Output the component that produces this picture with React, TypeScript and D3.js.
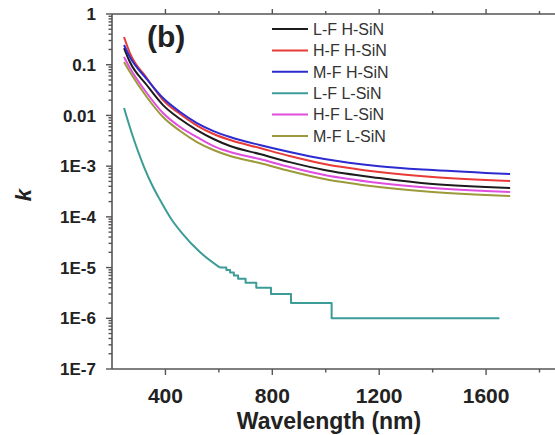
import React from "react";
import * as d3 from "d3";

// ---- data ----
const wavelengths = [245, 267, 330, 391, 455, 518, 580, 642, 753, 865, 995, 1200, 1400, 1690];

const kLF_HSiN = [0.213, 0.113, 0.0398, 0.016, 0.00849, 0.00515, 0.00343, 0.00249, 0.00173, 0.0012, 0.000838, 0.000582, 0.000443, 0.00037];
const kHF_HSiN = [0.352, 0.17, 0.0547, 0.0201, 0.01066, 0.00632, 0.0043, 0.00327, 0.00228, 0.00158, 0.0011, 0.000765, 0.00061, 0.000508];
const kMF_HSiN = [0.245, 0.142, 0.0522, 0.022, 0.01167, 0.00708, 0.00492, 0.00375, 0.00261, 0.0019, 0.00138, 0.001, 0.000838, 0.000698];
const kHF_LSiN = [0.142, 0.0861, 0.0277, 0.01115, 0.0059, 0.00375, 0.00249, 0.0019, 0.00138, 0.00096, 0.000667, 0.000464, 0.00037, 0.000308];
const kMF_LSiN = [0.113, 0.0718, 0.0231, 0.00929, 0.00492, 0.00299, 0.00208, 0.00158, 0.00115, 0.0008, 0.000557, 0.000387, 0.000308, 0.000257];

// L-F L-SiN: smooth part then quantised (stepped) part
const tealWl = [245, 275, 320, 350, 380, 421, 462, 529, 604];
const tealK = [0.014, 0.0043, 0.00096, 0.000424, 0.000214, 9.18e-5, 4.79e-5, 2.02e-5, 1.0e-5];
const tealStepWl = [604, 628, 642, 656, 672, 700, 740, 795, 870, 1022, 1650];
const tealStepK = [1e-5, 9e-6, 8e-6, 7e-6, 6e-6, 5e-6, 4e-6, 3e-6, 2e-6, 1e-6, 1e-6];

const seriesNames = ["L-F H-SiN", "H-F H-SiN", "M-F H-SiN", "L-F L-SiN", "H-F L-SiN", "M-F L-SiN"];
const seriesColors = ["#1c1c1c", "#e83a36", "#2b2bd0", "#3c9c96", "#e04ee0", "#9c9a3a"];

const xTicks = [400, 800, 1200, 1600];
const xMinorTicks = [600, 1000, 1400, 1800];
const yTicks = [1, 0.1, 0.01, 1e-3, 1e-4, 1e-5, 1e-6, 1e-7];
const yTickLabels = ["1", "0.1", "0.01", "1E-3", "1E-4", "1E-5", "1E-6", "1E-7"];

const FONT = "'Liberation Sans', Arial, Helvetica, sans-serif";

export default function App() {
  const W = 555, H = 435;
  const left = 112, right = 555, top = 14, bottom = 369;

  const x = d3.scaleLinear().domain([200, 1858]).range([left, right]);
  const y = d3.scaleLog().domain([1e-7, 1]).range([bottom, top]);

  const mainSeries = [
    { name: seriesNames[0], color: seriesColors[0], k: kLF_HSiN },
    { name: seriesNames[1], color: seriesColors[1], k: kHF_HSiN },
    { name: seriesNames[2], color: seriesColors[2], k: kMF_HSiN },
    { name: seriesNames[4], color: seriesColors[4], k: kHF_LSiN },
    { name: seriesNames[5], color: seriesColors[5], k: kMF_LSiN },
  ];

  const smooth = d3
    .line<[number, number]>()
    .x((d) => x(d[0]))
    .y((d) => y(d[1]))
    .curve(d3.curveMonotoneX);
  const step = d3
    .line<[number, number]>()
    .x((d) => x(d[0]))
    .y((d) => y(d[1]))
    .curve(d3.curveStepAfter);

  const tealSmooth = smooth(tealWl.map((w, i) => [w, tealK[i]] as [number, number])) || "";
  const tealStep = step(tealStepWl.map((w, i) => [w, tealStepK[i]] as [number, number])) || "";

  // minor log ticks
  const yMinor: number[] = [];
  for (let e = -7; e < 0; e++) {
    for (let m = 2; m <= 9; m++) yMinor.push(m * Math.pow(10, e));
  }

  const axisColor = "#555";

  const legendX0 = 272, legendX1 = 308, legendY0 = 29, legendDy = 21.4;

  return (
    <svg
      width={W}
      height={H}
      style={{ position: "absolute", left: 0, top: 0, background: "#fff" }}
      fontFamily={FONT}
    >
      <rect x={0} y={0} width={W} height={H} fill="#fff" />

      {/* data lines */}
      <g fill="none" strokeWidth={2} strokeLinejoin="round">
        {mainSeries.map((s) => (
          <path
            key={s.name}
            d={smooth(wavelengths.map((w, i) => [w, s.k[i]] as [number, number])) || ""}
            stroke={s.color}
          />
        ))}
        <path d={tealSmooth} stroke={seriesColors[3]} />
        <path d={tealStep} stroke={seriesColors[3]} />
      </g>

      {/* axes lines */}
      <g stroke={axisColor} strokeWidth={1.6} fill="none">
        <line x1={left} y1={top} x2={left} y2={bottom} />
        <line x1={left} y1={bottom} x2={right} y2={bottom} />
        <line x1={left} y1={top} x2={right} y2={top} />
      </g>

      {/* x ticks */}
      <g stroke={axisColor} strokeWidth={1.4}>
        {xTicks.map((t) => (
          <g key={"xt" + t}>
            <line x1={x(t)} x2={x(t)} y1={bottom} y2={bottom + 6} />
            <line x1={x(t)} x2={x(t)} y1={top} y2={top - 5} />
          </g>
        ))}
        {xMinorTicks.map((t) => (
          <g key={"xm" + t}>
            <line x1={x(t)} x2={x(t)} y1={bottom} y2={bottom + 3.5} />
            <line x1={x(t)} x2={x(t)} y1={top} y2={top - 3} />
          </g>
        ))}
      </g>
      <g fontSize={21} fontWeight="bold" fill="#222" textAnchor="middle">
        {xTicks.map((t) => (
          <text key={"xl" + t} x={x(t)} y={403}>
            {t}
          </text>
        ))}
      </g>

      {/* y ticks */}
      <g stroke={axisColor} strokeWidth={1.4}>
        {yTicks.map((t) => (
          <line key={"yt" + t} x1={left - 6} x2={left} y1={y(t)} y2={y(t)} />
        ))}
        {yMinor.map((t, i) => (
          <line key={"ym" + i} x1={left - 3.5} x2={left} y1={y(t)} y2={y(t)} />
        ))}
      </g>
      <g fontSize={17} fontWeight="bold" fill="#222" textAnchor="end">
        {yTicks.map((t, i) => (
          <text key={"yl" + i} x={96} y={y(t)} dy="0.36em">
            {yTickLabels[i]}
          </text>
        ))}
      </g>

      {/* axis titles */}
      <text x={329} y={429} fontSize={23} fontWeight="bold" textAnchor="middle" fill="#222">
        Wavelength (nm)
      </text>
      <text
        transform="translate(31,195) rotate(-90)"
        fontSize={22}
        fontWeight="bold"
        fontStyle="italic"
        textAnchor="middle"
        fill="#222"
      >
        k
      </text>

      {/* panel label */}
      <text x={147} y={47} fontSize={30} fontWeight="bold" fill="#222">
        (b)
      </text>

      {/* legend */}
      <g>
        {seriesNames.map((n, i) => {
          const yy = legendY0 + i * legendDy;
          return (
            <g key={"lg" + n}>
              <line x1={legendX0} x2={legendX1} y1={yy} y2={yy} stroke={seriesColors[i]} strokeWidth={2} />
              <text x={313} y={yy} dy="0.36em" fontSize={16} fill="#333">
                {n}
              </text>
            </g>
          );
        })}
      </g>
    </svg>
  );
}
